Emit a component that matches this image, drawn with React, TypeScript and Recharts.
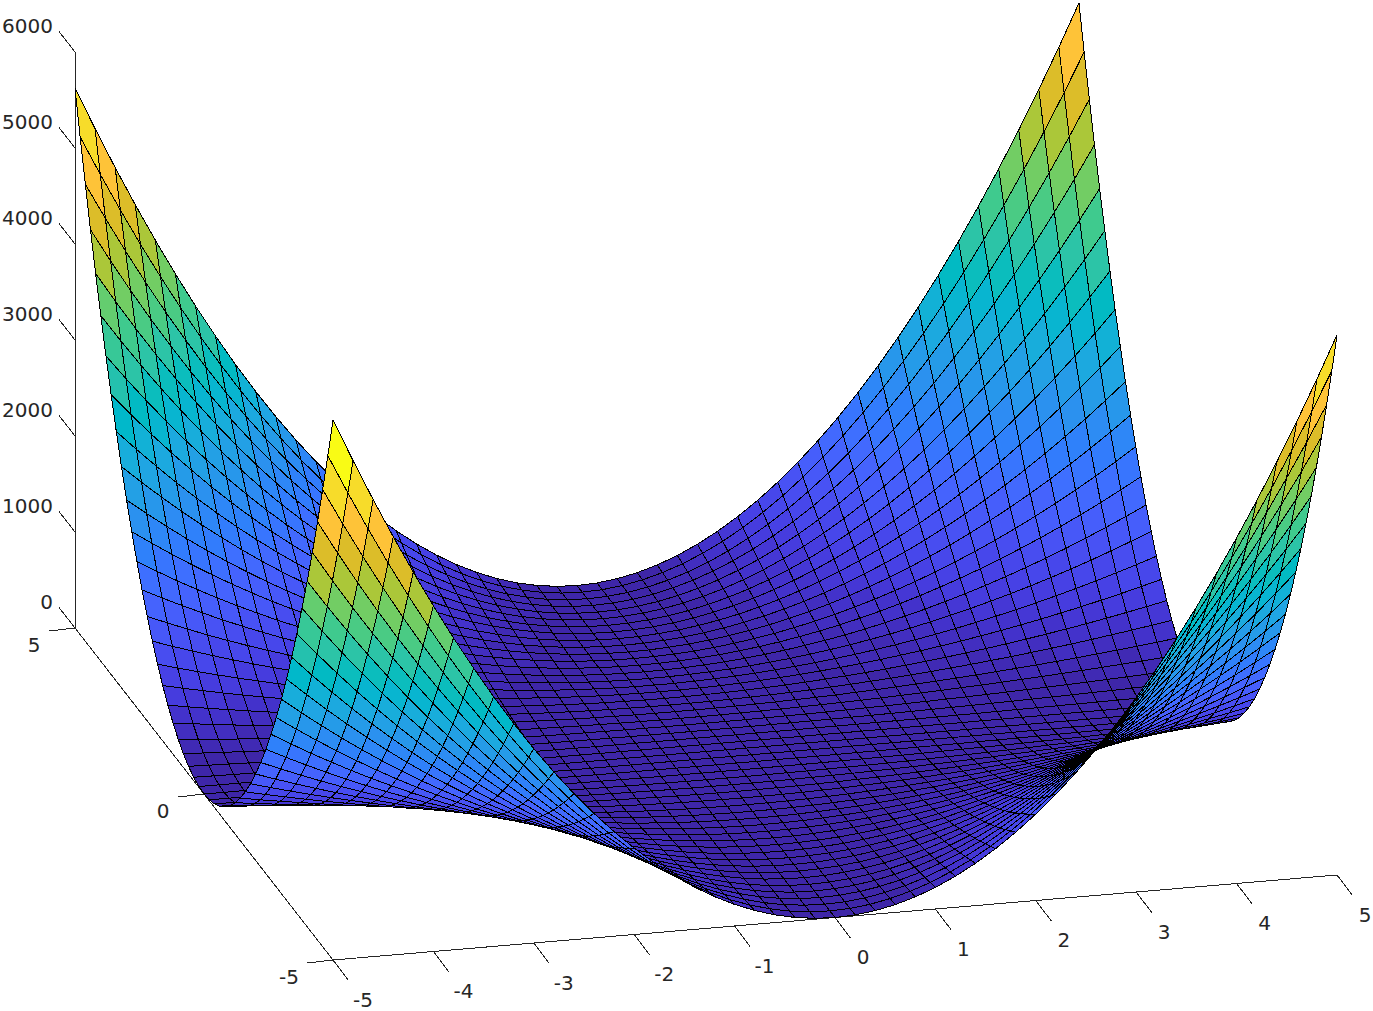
import { ScatterChart, Scatter, XAxis, YAxis, ReferenceLine } from 'recharts';

const WIDTH = 1373;
const HEIGHT = 1011;

const gridValues = [
  -5, -4.8, -4.6, -4.4, -4.2, -4, -3.8, -3.6, -3.4, -3.2, -3, -2.8, -2.6, -2.4, -2.2, -2, -1.8, -1.6, -1.4, -1.2, -1, -0.8, -0.6, -0.4, -0.2,
  0, 0.2, 0.4, 0.6, 0.8, 1, 1.2, 1.4, 1.6, 1.8, 2, 2.2, 2.4, 2.6, 2.8, 3, 3.2, 3.4, 3.6, 3.8, 4, 4.2, 4.4, 4.6, 4.8, 5,
];

// surface heights for one quadrant, row = |y| / 0.2, column = |x| / 0.2 (the picture is mirrored in both axes)
const zQuadrant = [
  [0, 0, 0, 0, 0, 0, 0, 0, 0, 0, 0, 0, 0, 0, 0, 0, 0, 0, 0, 0, 0, 0, 0, 0, 0, 0],
  [0, 0, 0, 0, 0, 0, 1, 1, 1, 1, 1, 2, 2, 2, 3, 3, 4, 4, 5, 5, 6, 6, 7, 8, 8, 9],
  [0, 0, 0, 1, 1, 1, 2, 3, 4, 5, 6, 7, 8, 10, 11, 13, 15, 17, 19, 21, 23, 25, 28, 30, 33, 36],
  [0, 0, 1, 1, 2, 3, 5, 6, 8, 10, 13, 16, 19, 22, 25, 29, 33, 37, 42, 47, 52, 57, 63, 69, 75, 81],
  [0, 0, 1, 2, 4, 6, 8, 11, 15, 19, 23, 28, 33, 39, 45, 52, 59, 67, 75, 83, 92, 102, 112, 122, 133, 144],
  [0, 0, 1, 3, 6, 9, 13, 18, 23, 29, 36, 44, 52, 61, 71, 81, 92, 104, 117, 130, 144, 159, 174, 190, 207, 225],
  [0, 1, 2, 5, 8, 13, 19, 25, 33, 42, 52, 63, 75, 88, 102, 117, 133, 150, 168, 187, 207, 229, 251, 274, 299, 324],
  [0, 1, 3, 6, 11, 18, 25, 35, 45, 57, 71, 85, 102, 119, 138, 159, 181, 204, 229, 255, 282, 311, 342, 373, 406, 441],
  [0, 1, 4, 8, 15, 23, 33, 45, 59, 75, 92, 112, 133, 156, 181, 207, 236, 266, 299, 333, 369, 406, 446, 488, 531, 576],
  [0, 1, 5, 10, 19, 29, 42, 57, 75, 94, 117, 141, 168, 197, 229, 262, 299, 337, 378, 421, 467, 514, 565, 617, 672, 729],
  [0, 1, 6, 13, 23, 36, 52, 71, 92, 117, 144, 174, 207, 243, 282, 324, 369, 416, 467, 520, 576, 635, 697, 762, 829, 900],
  [0, 2, 7, 16, 28, 44, 63, 85, 112, 141, 174, 211, 251, 294, 342, 392, 446, 504, 565, 629, 697, 768, 843, 922, 1004, 1089],
  [0, 2, 8, 19, 33, 52, 75, 102, 133, 168, 207, 251, 299, 350, 406, 467, 531, 599, 672, 749, 829, 914, 1004, 1097, 1194, 1296],
  [0, 2, 10, 22, 39, 61, 88, 119, 156, 197, 243, 294, 350, 411, 477, 548, 623, 703, 788, 879, 973, 1073, 1178, 1287, 1402, 1521],
  [0, 3, 11, 25, 45, 71, 102, 138, 181, 229, 282, 342, 406, 477, 553, 635, 723, 816, 914, 1019, 1129, 1245, 1366, 1493, 1626, 1764],
  [0, 3, 13, 29, 52, 81, 117, 159, 207, 262, 324, 392, 467, 548, 635, 729, 829, 936, 1050, 1170, 1296, 1429, 1568, 1714, 1866, 2025],
  [0, 4, 15, 33, 59, 92, 133, 181, 236, 299, 369, 446, 531, 623, 723, 829, 944, 1065, 1194, 1331, 1475, 1626, 1784, 1950, 2123, 2304],
  [0, 4, 17, 37, 67, 104, 150, 204, 266, 337, 416, 504, 599, 703, 816, 936, 1065, 1203, 1348, 1502, 1665, 1835, 2014, 2202, 2397, 2601],
  [0, 5, 19, 42, 75, 117, 168, 229, 299, 378, 467, 565, 672, 788, 914, 1050, 1194, 1348, 1512, 1684, 1866, 2058, 2258, 2468, 2687, 2916],
  [0, 5, 21, 47, 83, 130, 187, 255, 333, 421, 520, 629, 749, 879, 1019, 1170, 1331, 1502, 1684, 1877, 2079, 2292, 2516, 2750, 2994, 3249],
  [0, 6, 23, 52, 92, 144, 207, 282, 369, 467, 576, 697, 829, 973, 1129, 1296, 1475, 1665, 1866, 2079, 2304, 2540, 2788, 3047, 3318, 3600],
  [0, 6, 25, 57, 102, 159, 229, 311, 406, 514, 635, 768, 914, 1073, 1245, 1429, 1626, 1835, 2058, 2292, 2540, 2801, 3074, 3359, 3658, 3969],
  [0, 7, 28, 63, 112, 174, 251, 342, 446, 565, 697, 843, 1004, 1178, 1366, 1568, 1784, 2014, 2258, 2516, 2788, 3074, 3373, 3687, 4014, 4356],
  [0, 8, 30, 69, 122, 190, 274, 373, 488, 617, 762, 922, 1097, 1287, 1493, 1714, 1950, 2202, 2468, 2750, 3047, 3359, 3687, 4030, 4388, 4761],
  [0, 8, 33, 75, 133, 207, 299, 406, 531, 672, 829, 1004, 1194, 1402, 1626, 1866, 2123, 2397, 2687, 2994, 3318, 3658, 4014, 4388, 4778, 5184],
  [0, 9, 36, 81, 144, 225, 324, 441, 576, 729, 900, 1089, 1296, 1521, 1764, 2025, 2304, 2601, 2916, 3249, 3600, 3969, 4356, 4761, 5184, 5625],
];

const xTicks = [-5, -4, -3, -2, -1, 0, 1, 2, 3, 4, 5];
const yTicks = [-5, 0, 5];
const zTicks = [0, 1000, 2000, 3000, 4000, 5000, 6000];

const parula = [
  [0.2422, 0.1504, 0.6603], [0.2504, 0.165, 0.7076], [0.2578, 0.1818, 0.7511], [0.2647, 0.1978, 0.7952],
  [0.2706, 0.2147, 0.8364], [0.2751, 0.2342, 0.871], [0.2783, 0.2559, 0.8991], [0.2803, 0.2782, 0.9221],
  [0.2813, 0.3006, 0.9414], [0.281, 0.3228, 0.9579], [0.2795, 0.3447, 0.9717], [0.276, 0.3667, 0.9829],
  [0.2699, 0.3892, 0.9906], [0.2602, 0.4123, 0.9952], [0.244, 0.4358, 0.9988], [0.2206, 0.4603, 0.9973],
  [0.1963, 0.4847, 0.9892], [0.1834, 0.5074, 0.9798], [0.1786, 0.5289, 0.9682], [0.1764, 0.5499, 0.952],
  [0.1687, 0.5703, 0.9359], [0.154, 0.5902, 0.9218], [0.146, 0.6091, 0.9079], [0.138, 0.6276, 0.8973],
  [0.1248, 0.6459, 0.8883], [0.1113, 0.6635, 0.8763], [0.0952, 0.6798, 0.8598], [0.0689, 0.6948, 0.8394],
  [0.0297, 0.7082, 0.8163], [0.0036, 0.7203, 0.7917], [0.0067, 0.7312, 0.766], [0.0433, 0.7411, 0.7394],
  [0.0964, 0.75, 0.712], [0.1408, 0.7584, 0.6842], [0.1717, 0.767, 0.6554], [0.1938, 0.7758, 0.6251],
  [0.2161, 0.7843, 0.5923], [0.247, 0.7918, 0.5567], [0.2906, 0.7973, 0.5188], [0.3406, 0.8008, 0.4789],
  [0.3909, 0.8029, 0.4354], [0.4456, 0.8024, 0.3909], [0.5044, 0.7993, 0.348], [0.5616, 0.7942, 0.3045],
  [0.6174, 0.7876, 0.2612], [0.672, 0.7793, 0.2227], [0.7242, 0.7698, 0.191], [0.7738, 0.7598, 0.1646],
  [0.8203, 0.7498, 0.1535], [0.8634, 0.7406, 0.1596], [0.9035, 0.733, 0.1774], [0.9393, 0.7288, 0.21],
  [0.9728, 0.7298, 0.2394], [0.9956, 0.7434, 0.2371], [0.997, 0.7659, 0.2199], [0.9952, 0.7893, 0.2028],
  [0.9892, 0.8136, 0.1885], [0.9786, 0.8386, 0.1766], [0.9676, 0.8639, 0.1643], [0.961, 0.889, 0.1537],
  [0.9597, 0.9135, 0.1423], [0.9628, 0.9373, 0.1265], [0.9691, 0.9606, 0.1064], [0.9769, 0.9839, 0.0805],
];

const axisColor = '#262626';
const fontFamily = '"DejaVu Sans", sans-serif';
const center = (gridValues.length - 1) / 2;

// parallel projection of the view, in chart units
const project = (x: number, y: number, z: number) => ({
  sx: 706 + 100.4 * x - 25.8 * y,
  sy: 751.5 - 8.5 * x - 33.2 * y - 0.096 * z,
});

const zAt = (i: number, j: number) => zQuadrant[Math.abs(j - center)][Math.abs(i - center)];

const colorFor = (z: number) => {
  const zMax = zQuadrant[center][center];
  const [r, g, b] = parula[Math.min(63, Math.floor((z / zMax) * 64))];
  return `rgb(${Math.round(r * 255)},${Math.round(g * 255)},${Math.round(b * 255)})`;
};

// far facets first so nearer ones paint over them
const facets: { corners: number[][]; fill: string; depth: number }[] = [];
for (let j = 0; j < gridValues.length - 1; j++) {
  for (let i = 0; i < gridValues.length - 1; i++) {
    const corners = [[i, j], [i + 1, j], [i + 1, j + 1], [i, j + 1]];
    const mx = (gridValues[i] + gridValues[i + 1]) / 2;
    const my = (gridValues[j] + gridValues[j + 1]) / 2;
    const mz = corners.reduce((sum, [a, b]) => sum + zAt(a, b), 0) / 4;
    const depth = -0.237 * (mx / 10) - 0.915 * (my / 10) + (0.33 * 0.588 * mz) / 6000;
    facets.push({ corners, fill: colorFor(zAt(i, j)), depth });
  }
}
facets.sort((a, b) => a.depth - b.depth);

const vertices = facets.flatMap((f) =>
  f.corners.map(([i, j]) => project(gridValues[i], gridValues[j], zAt(i, j)))
);

const SurfaceFacets = ({ points }: { points?: { x: number; y: number }[] }) => (
  <g shapeRendering="crispEdges">
    {facets.map((f, n) => {
      const quad = (points ?? []).slice(n * 4, n * 4 + 4);
      return (
        <polygon
          key={n}
          points={quad.map((p) => `${p.x},${p.y}`).join(' ')}
          fill={f.fill}
          stroke="#000"
          strokeWidth={1}
          strokeLinejoin="round"
        />
      );
    })}
  </g>
);

const Nothing = () => <g />;

const tickLabel = (anchor: string) => (props: any) => (
  <text
    x={props.cx}
    y={props.cy}
    textAnchor={anchor}
    dominantBaseline="central"
    fontFamily={fontFamily}
    fontSize={20}
    fill={axisColor}
  >
    {props.payload.text}
  </text>
);

const shift = (p: { sx: number; sy: number }, dx: number, dy: number) => ({ sx: p.sx + dx, sy: p.sy + dy });

const xLabels = xTicks.map((t) => ({ ...shift(project(t, -5, 0), t < 0 ? 30 : 28, 39.5), text: String(t) }));
const yLabels = yTicks.map((t) => ({ ...shift(project(-5, t, 0), t < 0 ? -44 : -41, 16.5), text: String(t) }));
const zLabels = zTicks.map((t) => ({ sx: 53, sy: project(-5, 5, t).sy - 26, text: String(t) }));

const segmentOf = (a: { sx: number; sy: number }, b: { sx: number; sy: number }) =>
  [{ x: a.sx, y: a.sy }, { x: b.sx, y: b.sy }] as any;

const axisSegments = [
  segmentOf(project(-5, 5, 0), project(-5, 5, 6000)),
  segmentOf(project(-5, -5, 0), project(5, -5, 0)),
  segmentOf(project(-5, -5, 0), project(-5, 5, 0)),
  ...xTicks.map((t) => segmentOf(project(t, -5, 0), shift(project(t, -5, 0), 15.5, 20.5))),
  ...yTicks.map((t) => segmentOf(project(-5, t, 0), shift(project(-5, t, 0), -26, 3))),
  ...zTicks.map((t) => segmentOf(project(-5, 5, t), shift(project(-5, 5, t), -16, -20.5))),
];

export default function App() {
  return (
    <div style={{ position: 'absolute', left: 0, top: 0, background: '#fff' }}>
      <ScatterChart width={WIDTH} height={HEIGHT} margin={{ top: 0, right: 0, bottom: 0, left: 0 }}>
        <XAxis type="number" dataKey="sx" domain={[0, WIDTH]} hide allowDataOverflow />
        <YAxis type="number" dataKey="sy" domain={[0, HEIGHT]} reversed hide allowDataOverflow />
        {axisSegments.map((segment, n) => (
          <ReferenceLine key={n} segment={segment} stroke={axisColor} strokeWidth={1} ifOverflow="visible" shapeRendering="crispEdges" />
        ))}
        <Scatter
          data={vertices}
          isAnimationActive={false}
          shape={Nothing}
          line={(props: any) => <SurfaceFacets points={props.points} />}
        />
        <Scatter data={xLabels} isAnimationActive={false} shape={tickLabel('middle')} />
        <Scatter data={yLabels} isAnimationActive={false} shape={tickLabel('middle')} />
        <Scatter data={zLabels} isAnimationActive={false} shape={tickLabel('end')} />
      </ScatterChart>
    </div>
  );
}
